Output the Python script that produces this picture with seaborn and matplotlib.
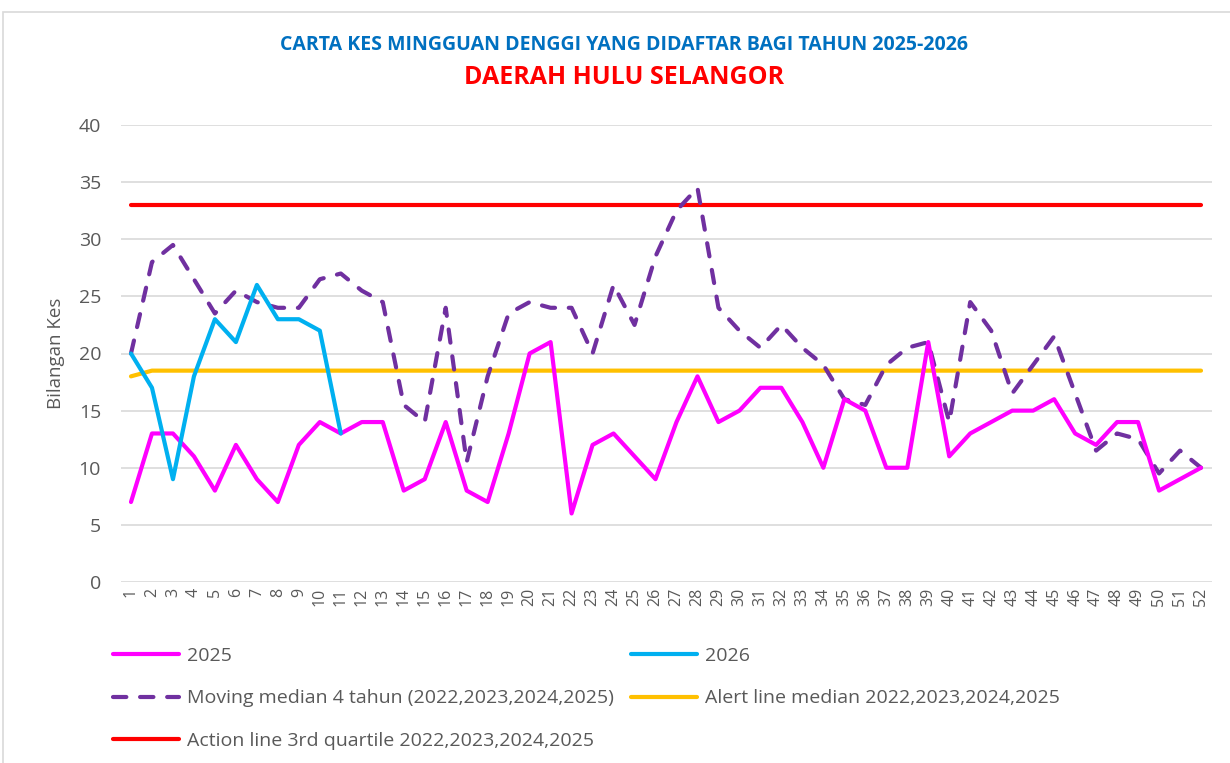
import numpy as np
import pandas as pd
import matplotlib
matplotlib.use('Agg')
import matplotlib.pyplot as plt
import seaborn as sns
from matplotlib.lines import Line2D
from matplotlib.patches import Rectangle

# Weekly registered dengue cases
weeks = list(range(1, 53))
cases_2025 = [7, 13, 13, 11, 8, 12, 9, 7, 12, 14, 13, 14, 14, 8, 9, 14, 8, 7, 13, 20,
              21, 6, 12, 13, 11, 9, 14, 18, 14, 15, 17, 17, 14, 10, 16, 15, 10, 10, 21, 11,
              13, 14, 15, 15, 16, 13, 12, 14, 14, 8, 9, 10]
cases_2026 = [20, 17, 9, 18, 23, 21, 26, 23, 23, 22, 13]
moving_median = [20, 28, 29.5, 26.5, 23.5, 25.5, 24.5, 24, 24, 26.5, 27, 25.5, 24.5, 15.5,
                 14, 24, 10.5, 18, 23.5, 24.5, 24, 24, 20, 26, 22.5, 28.5, 32.5, 34.5, 24, 22,
                 20.5, 22.5, 20.5, 19, 16, 15.5, 19, 20.5, 21, 14, 24.5, 22, 16.5, 19, 21.5,
                 16.5, 11.5, 13, 12.5, 9.5, 11.5, 10]
alert_line = [18] + [18.5] * 51
action_line = [33] * 52

labels = ['2025', '2026', 'Moving median 4 tahun (2022,2023,2024,2025)',
          'Alert line median 2022,2023,2024,2025',
          'Action line 3rd quartile 2022,2023,2024,2025']
colors = ['#FF00FF', '#00B0F0', '#7030A0', '#FFC000', '#FF0000']

sns.set_theme(style='white')
plt.rcParams['font.family'] = ['Open Sans', 'DejaVu Sans']
text_grey = '#595959'

fig = plt.figure(figsize=(12.3, 7.63), dpi=100)
fig.patches.append(Rectangle((3 / 1230, -0.01), 1.0, (763 - 12) / 763 + 0.01,
                             transform=fig.transFigure, fill=False,
                             edgecolor='#d9d9d9', lw=1.2))
ax = fig.add_axes([120.5 / 1230, 181 / 763, 1091 / 1230, 457 / 763])

lw = 3
sns.lineplot(x=weeks, y=action_line, ax=ax, color=colors[4], lw=lw,
             solid_capstyle='round', zorder=2)
sns.lineplot(x=weeks, y=alert_line, ax=ax, color=colors[3], lw=lw,
             solid_capstyle='round', zorder=2)
sns.lineplot(x=weeks, y=moving_median, ax=ax, color=colors[2], lw=lw,
             dashes=(3.2, 3.3), dash_capstyle='round', zorder=3)
sns.lineplot(x=weeks, y=cases_2025, ax=ax, color=colors[0], lw=lw,
             solid_capstyle='round', zorder=4)
sns.lineplot(x=weeks[:len(cases_2026)], y=cases_2026, ax=ax, color=colors[1], lw=lw,
             solid_capstyle='round', zorder=5)

ax.set_xlim(0.5, 52.5)
ax.set_ylim(0, 40)
ax.set_yticks(range(0, 41, 5))
ax.set_xticks(weeks)
ax.set_xticklabels([str(w) for w in weeks], rotation=90)
ax.grid(axis='y', color='#d9d9d9', lw=1.2)
ax.grid(axis='x', visible=False)
for s in ax.spines.values():
    s.set_visible(False)
ax.tick_params(axis='y', length=0, pad=14, labelsize=14, labelcolor=text_grey)
ax.tick_params(axis='x', length=0, pad=4, labelsize=11.5, labelcolor=text_grey)
ax.set_ylabel('Bilangan Kes', fontsize=13.5, color=text_grey, labelpad=10)
ax.set_xlabel('')

fig.text(624 / 1230, 1 - 45 / 763, 'CARTA KES MINGGUAN DENGGI YANG DIDAFTAR BAGI TAHUN 2025-2026',
         ha='center', va='center', color='#0070C0', fontsize=14, fontweight='bold')
fig.text(624 / 1230, 1 - 77 / 763, 'DAERAH HULU SELANGOR',
         ha='center', va='center', color='#FF0000', fontsize=18, fontweight='bold')

def handle(i):
    if i == 2:
        return Line2D([], [], color=colors[i], lw=lw, dashes=(3.2, 3.3), dash_capstyle='round')
    return Line2D([], [], color=colors[i], lw=lw, solid_capstyle='round')

leg_kw = dict(frameon=False, fontsize=14, labelcolor=text_grey, handlelength=3.4,
              handletextpad=0.42, labelspacing=1.25, loc='upper left', borderaxespad=0,
              borderpad=0)
leg1 = fig.legend([handle(0), handle(2), handle(4)], [labels[0], labels[2], labels[4]],
                  bbox_to_anchor=(113 / 1230, 1 - 647 / 763), **leg_kw)
leg2 = fig.legend([handle(1), handle(3)], [labels[1], labels[3]],
                  bbox_to_anchor=(631 / 1230, 1 - 647 / 763), **leg_kw)

fig.savefig('out.png', dpi=100)
